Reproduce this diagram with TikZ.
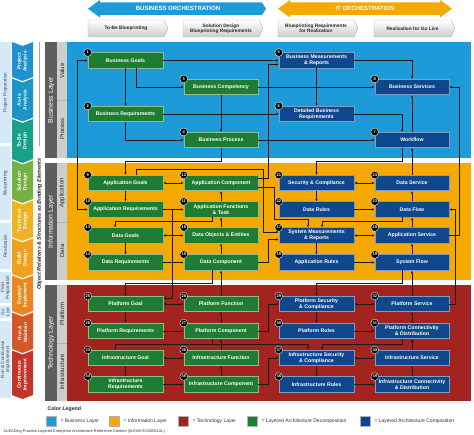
\documentclass[tikz,border=0pt]{standalone}
\usepackage{fontspec}
\setmainfont{Liberation Sans}
\usetikzlibrary{arrows.meta,calc}
\definecolor{bizblue}{HTML}{1D9AD8}
\definecolor{infoorange}{HTML}{F5A800}
\definecolor{techred}{HTML}{A3241E}
\definecolor{boxg}{HTML}{1F7D33}
\definecolor{boxgb}{HTML}{8DBE8F}
\definecolor{boxb}{HTML}{0E478C}
\definecolor{boxbb}{HTML}{7E9CC8}
\definecolor{linec}{HTML}{1A1A1A}
\definecolor{lgdark}{HTML}{5E5E5E}
\definecolor{lglight}{HTML}{CDCDCD}
\definecolor{phase}{HTML}{D5E9F6}
\definecolor{phasetxt}{HTML}{3A4756}
\definecolor{chA}{HTML}{2190CF}
\definecolor{chB}{HTML}{1C95C4}
\definecolor{chC}{HTML}{19A08A}
\definecolor{chD}{HTML}{74B044}
\definecolor{chE}{HTML}{EFB223}
\definecolor{chF}{HTML}{F0A01F}
\definecolor{chG}{HTML}{EA861F}
\definecolor{chH}{HTML}{D65627}
\definecolor{chI}{HTML}{C2352A}
\tikzset{
 gbox/.style={draw=boxgb, line width=0.5pt, fill=boxg, minimum width=75pt, minimum height=15.5pt, inner sep=0pt, text=white, font=\bfseries\fontsize{5.2}{6}\selectfont, align=center},
 bbox/.style={gbox, fill=boxb, draw=boxbb, minimum width=74pt},
 mbox/.style={gbox, minimum width=74pt},
 badge/.style={circle, fill=black, draw=white, line width=0.35pt, minimum size=7.8pt, inner sep=0pt, text=white, font=\bfseries\fontsize{4}{4.4}\selectfont},
 conn/.style={draw=linec, line width=0.6pt, -{Latex[length=2.6pt,width=2.4pt]}},
 conn2/.style={draw=linec, line width=0.6pt, {Latex[length=2.6pt,width=2.4pt]}-{Latex[length=2.6pt,width=2.4pt]}},
 stagebox/.style={draw=gray!60, line width=0.4pt, top color=white, bottom color=gray!40},
 stagetxt/.style={font=\bfseries\fontsize{4.8}{5.4}\selectfont, text=black!85, align=center},
 chevtxt/.style={rotate=90, font=\bfseries\fontsize{5}{5.6}\selectfont, text=white, align=center},
 phasetext/.style={rotate=90, font=\fontsize{4.6}{5}\selectfont, text=phasetxt, align=center},
 layertxt/.style={rotate=90, font=\fontsize{6.8}{7}\selectfont, text=white},
 subtxt/.style={rotate=90, font=\fontsize{6}{7}\selectfont, text=black!85},
 legsq/.style={draw=gray!60, line width=0.4pt, minimum size=10pt, inner sep=0pt},
 legtxt/.style={anchor=west, font=\fontsize{5}{6}\selectfont, text=black!80},
}
\begin{document}
\begin{tikzpicture}[x=1pt,y=-1pt]
\useasboundingbox (0,0) rectangle (474,435);
\fill[white] (0,0) rectangle (474,435);

% ---------- orchestration arrows ----------
\fill[bizblue] (88,8.75) -- (100,0) -- (100,2.5) -- (262,2.5) -- (266,8.75) -- (262,15) -- (100,15) -- (100,17.5) -- cycle;
\node[font=\bfseries\fontsize{6}{7}\selectfont, text=white] (borch) at (178,8.75) {BUSINESS ORCHESTRATION};
\fill[infoorange] (278,8.75) -- (290,0) -- (290,2.5) -- (440,2.5) -- (440,0) -- (452,8.75) -- (440,17.5) -- (440,15) -- (290,15) -- (290,17.5) -- cycle;
\node[font=\bfseries\fontsize{6}{7}\selectfont, text=white] (iorch) at (365,8.75) {IT ORCHESTRATION};

% ---------- stage boxes ----------
\foreach \xa/\xb/\nm/\txt in {88/168/sA/{To-Be Blueprinting}, 183/263/sB/{Solution Design\\Blueprinting Requirements}, 278/358/sC/{Blueprinting Requirements\\for Realization}, 374/455/sD/{Realization for Go Live}}{
  \shade[stagebox] (\xa,20) -- (\xb-4,20) -- (\xb,28.5) -- (\xb-4,37) -- (\xa,37) -- cycle;
  \node[stagetxt] (\nm) at ({(\xa+\xb-4)/2},28.5) {\txt};
}

% ---------- phase strip ----------
\foreach \t/\b/\nm/\txt in {42/143/pA/{Project Preparation}, 146/220/pB/{Blueprinting}, 223/269/pC/{Realization}, 272/303/pD/{Final\\Preparation}, 306/318/pE/{Go\\Live}, 321/398/pF/{Run \& Continuous\\Improvement}}{
  \fill[phase] (0,\t) rectangle (10.7,\b);
  \node[phasetext] (\nm) at (5.35,{(\t+\b)/2}) {\txt};
}

% ---------- chevrons ----------
\foreach \t/\b/\c/\nm/\txt in {42/77/chA/cA/{Project\\Analysis}, 78.5/117.5/chB/cB/{As-Is\\Analysis}, 119/159/chC/cC/{To-Be\\Design}, 160.5/199/chD/cD/{Solution\\Design}, 200.5/237/chE/cE/{Technical\\Design}, 238.5/274/chF/cF/{Build\\Design}, 275.5/311/chG/cG/{Deploy/\\Implement}, 312.5/349/chH/cH/{Run \&\\Maintain}, 350.5/395/chI/cI/{Continuous\\Improvement}}{
  \fill[\c] (12,\t) -- (22.5,\t+4) -- (33,\t) -- (33,\b) -- (22.5,\b+4) -- (12,\b) -- cycle;
  \node[chevtxt] (\nm) at (22.5,{(\t+\b)/2+2}) {\txt};
}

% ---------- binding elements caption ----------
\draw[gray!70, line width=0.5pt] (39.5,42) -- (39.5,146);
\node[rotate=90, font=\bfseries\itshape\fontsize{5.4}{6}\selectfont, text=black!85] (objrel) at (39.5,224) {Object Relations \& Structures as Binding Elements};

% ---------- layer labels ----------
\fill[lgdark] (45,42) rectangle (57,158);
\fill[lglight] (57,42) rectangle (67,158);
\fill[lgdark] (45,163.5) rectangle (57,280.5);
\fill[lglight] (57,163.5) rectangle (67,280.5);
\fill[lgdark] (45,285.5) rectangle (57,401);
\fill[lglight] (57,285.5) rectangle (67,401);
\draw[gray!60, line width=0.5pt] (57,100) -- (67,100);
\draw[gray!60, line width=0.5pt] (57,222) -- (67,222);
\draw[gray!60, line width=0.5pt] (57,343) -- (67,343);
\node[layertxt] (lb) at (51,100) {Business Layer};
\node[layertxt] (li) at (51,222) {Information Layer};
\node[layertxt] (lt) at (51,343) {Technology Layer};
\node[subtxt] (sv) at (62,71) {Value};
\node[subtxt] (sp) at (62,129) {Process};
\node[subtxt] (sa) at (62,193) {Application};
\node[subtxt] (sd) at (62,251) {Data};
\node[subtxt] (spl) at (62,314) {Platform};
\node[subtxt] (sin) at (62,372) {Infrastructure};

% ---------- panels ----------
\fill[bizblue] (67,42) rectangle (471,158);
\fill[infoorange] (67,163.5) rectangle (471,280.5);
\fill[techred] (67,285.5) rectangle (471,401);

% ---------- boxes: business ----------
\node[gbox] (n1) at (125.5,60.5) {Business Goals};
\node[mbox] (n3) at (221,87) {Business Competency};
\node[gbox] (n2) at (125.5,114) {Business Requirements};
\node[mbox] (n4) at (221,140) {Business Process};
\node[bbox, minimum width=75pt] (n5) at (316.5,60.5) {Business Measurements\\\& Reports};
\node[bbox] (n8) at (412,87) {Business Services};
\node[bbox, minimum width=75pt] (n6) at (316.5,114) {Detailed Business\\Requirements};
\node[bbox] (n7) at (412,140) {Workflow};
% ---------- boxes: information ----------
\node[gbox] (n9) at (125.5,183) {Application Goals};
\node[mbox] (n12) at (221,183) {Application Component};
\node[gbox] (n10) at (125.5,209.5) {Application Requirements};
\node[mbox] (n11) at (221,209.5) {Application Functions\\\& Task};
\node[gbox] (n13) at (125.5,235.5) {Data Goals};
\node[mbox] (n16) at (221,235.5) {Data Objects \& Entities};
\node[gbox] (n14) at (125.5,262.5) {Data Requirements};
\node[mbox] (n15) at (221,262.5) {Data Component};
\node[bbox, minimum width=75pt] (n21) at (316.5,183) {Security \& Compliance};
\node[bbox] (n24) at (412,183) {Data Service};
\node[bbox, minimum width=75pt] (n22) at (316.5,209.5) {Data Rules};
\node[bbox] (n23) at (412,209.5) {Data Flow};
\node[bbox, minimum width=75pt] (n17) at (316.5,235.5) {System Measurements\\\& Reports};
\node[bbox] (n20) at (412,235.5) {Application Service};
\node[bbox, minimum width=75pt] (n18) at (316.5,262.5) {Application Rules};
\node[bbox] (n19) at (412,262.5) {System Flow};
% ---------- boxes: technology ----------
\node[gbox] (n25) at (125.5,304) {Platform Goal};
\node[mbox] (n28) at (221,304) {Platform Function};
\node[gbox] (n26) at (125.5,331) {Platform Requirements};
\node[mbox] (n27) at (221,331) {Platform Component};
\node[gbox] (n33) at (125.5,358) {Infrastructure Goal};
\node[mbox] (n36) at (221,358) {Infrastructure Function};
\node[gbox] (n34) at (125.5,384.5) {Infrastructure\\Requirements};
\node[mbox] (n35) at (221,384.5) {Infrastructure Component};
\node[bbox, minimum width=75pt] (n29) at (316.5,304) {Platform Security\\\& Compliance};
\node[bbox] (n32) at (412,304) {Platform Service};
\node[bbox, minimum width=75pt] (n30) at (316.5,331) {Platform Rules};
\node[bbox] (n31) at (412,331) {Platform Connectivity\\\& Distribution};
\node[bbox, minimum width=75pt] (n37) at (316.5,358) {Infrastructure Security\\\& Compliance};
\node[bbox] (n40) at (412,358) {Infrastructure Service};
\node[bbox, minimum width=75pt] (n38) at (316.5,384.5) {Infrastructure Rules};
\node[bbox] (n39) at (412,384.5) {Infrastructure Connectivity\\\& Distribution};

% ---------- lanes ----------
\coordinate (X77) at (77,0);
\coordinate (X115) at (115,0);
\coordinate (X136) at (136,0);
\coordinate (X172) at (172,0);
\coordinate (X212) at (212,0);
\coordinate (X263) at (263,0);
\coordinate (X268) at (268,0);
\coordinate (X274) at (274,0);
\coordinate (X308) at (308,0);
\coordinate (X322) at (322,0);
\coordinate (X402) at (402,0);
\coordinate (X455) at (455,0);
\coordinate (X459) at (459,0);
\coordinate (Y64) at (0,64.5);
\coordinate (Y161) at (0,161);
\coordinate (Y169) at (0,169);
\coordinate (Y177) at (0,178);
\coordinate (Y186) at (0,187);
\coordinate (Y219) at (0,219);
\coordinate (Y221) at (0,221.5);
\coordinate (Y232) at (0,232);
\coordinate (Y240) at (0,239.5);
\coordinate (Y283) at (0,283);
\coordinate (Y297) at (0,298);
\coordinate (Y343) at (0,344);

% ---------- connectors: business ----------
\draw[conn] (n1) -- (n2);
\draw[conn] (n1.south -| X136) |- (n3.west);
\draw[conn] (n3) -- (n4);
\draw[conn] (n2.south) |- (n4.west);
\draw[conn] (n1.east) -- (n5.west);
\draw[conn] (n3.east) -- (n8.west);
\draw[conn] (n2.east) -- (n6.west);
\draw[conn] (n4.east) -- (n7.west);
\draw[conn] (n5) -- (n6);
\draw[conn] (n5.east) -| (n8.north);
\draw[conn] (n6.east) -| (n7.north -| X402);
\draw[conn] (n7) -- (n8);
\draw[conn2] (n1.west) -| (X77 |- n10.west) -- (n10.west);
\draw[conn] (n4.south) -- (n4.south |- Y161) -| (n9.north);
\draw[conn] (n7.south -| X402) -- (X402 |- Y161) -| (n21.north);
\draw[conn] (n24) -- (n7);
\draw[conn] (n20.east) -| (X459 |- n8.east) -- (n8.east);
\draw[conn] (n12.east |- Y177) -- (X268 |- Y177) -- (X268 |- Y64) -- (n5.west |- Y64);

% ---------- connectors: information ----------
\draw[conn2] (n9) -- (n12);
\draw[conn] (n9) -- (n10);
\draw[conn] (n10) -- (n11);
\draw[conn] (n11) -- (n12);
\draw[conn] (n11.south -| X212) -- (X212 |- Y221) -| (n13.north -| X115);
\draw[conn] (n16) -- (n11);
\draw[conn2] (n13) -- (n16);
\draw[conn] (n13) -- (n14);
\draw[conn] (n14) -- (n15);
\draw[conn] (n15) -- (n16);
\draw[conn2] (n21) -- (n24);
\draw[conn] (n21) -- (n22);
\draw[conn] (n22) -- (n23);
\draw[conn] (n23) -- (n24);
\draw[conn] (n23.south -| X402) -- (X402 |- Y221) -| (n17.north -| X322);
\draw[conn] (n20) -- (n23);
\draw[conn2] (n17) -- (n20);
\draw[conn] (n17) -- (n18);
\draw[conn] (n18) -- (n19);
\draw[conn] (n19) -- (n20);
\draw[conn] (n9.north -| X136) |- (X263 |- Y169) -- (X263 |- Y232) -- (n17.west |- Y232);
\draw[conn] (n12.east |- Y186) -- (X274 |- Y186) -- (X274 |- Y219) -| (n17.north -| X308);
\draw[conn] (n15.east) -| (X268 |- Y240) -- (n17.west |- Y240);
\draw[conn] (n10.east -| X172) -- (X172 |- Y297) -- (n25.east |- Y297);

% ---------- connectors: technology ----------
\draw[conn] (n15.south -| X212) -- (X212 |- Y283) -| (n25.north);
\draw[conn] (n28) -- (n15);
\draw[conn] (n19.south -| X402) -- (X402 |- Y283) -| (n29.north);
\draw[conn] (n32) -- (n19);
\draw[conn] (n32.east) -| (X455 |- n23.east) -- (n23.east);
\draw[conn2] (n25) -- (n28);
\draw[conn] (n25) -- (n26);
\draw[conn] (n26) -- (n27);
\draw[conn] (n27) -- (n28);
\draw[conn] (n27.south -| X212) -- (X212 |- Y343) -| (n33.north -| X115);
\draw[conn] (X212 |- Y343) -| (n37.north -| X308);
\draw[conn] (n36) -- (n27);
\draw[conn2] (n33) -- (n36);
\draw[conn] (n33) -- (n34);
\draw[conn] (n34) -- (n35);
\draw[conn] (n35) -- (n36);
\draw[conn2] (n29) -- (n32);
\draw[conn] (n29) -- (n30);
\draw[conn] (n30) -- (n31);
\draw[conn] (n31) -- (n32);
\draw[conn] (n31.south -| X402) -- (X402 |- Y343) -| (n37.north -| X322);
\draw[conn] (n40) -- (n31);
\draw[conn2] (n37) -- (n40);
\draw[conn] (n37) -- (n38);
\draw[conn] (n38) -- (n39);
\draw[conn] (n39) -- (n40);
\draw[conn] (n27.east) -| (X268 |- n29.west) -- (n29.west);
\draw[conn] (n35.east) -| (X268 |- n37.west) -- (n37.west);

% ---------- badges ----------
\foreach \k in {1,...,40}{
  \node[badge] (bd\k) at (n\k.north west) {\k};
}

% ---------- legend ----------
\node[anchor=west, font=\bfseries\fontsize{5.2}{6}\selectfont, text=black!85] (lg) at (44,409) {Color Legend};
\node[legsq, fill=bizblue] (l1) at (51,421) {};
\node[legtxt] (t1) at (57,421) {= Business Layer};
\node[legsq, fill=infoorange] (l2) at (114,421) {};
\node[legtxt] (t2) at (120,421) {= Information Layer};
\node[legsq, fill=techred] (l3) at (183,421) {};
\node[legtxt] (t3) at (189,421) {= Technology Layer};
\node[legsq, fill=boxg] (l4) at (252,421) {};
\node[legtxt] (t4) at (258,421) {= Layered Architecture Decomposition};
\node[legsq, fill=boxb] (l5) at (365,421) {};
\node[legtxt] (t5) at (371,421) {= Layered Architecture Composition};
\node[anchor=west, font=\fontsize{3.9}{4.5}\selectfont, text=black!80] (foot) at (0,431.5) {©LEADing Practice Layered Enterprise Architecture Reference Content (\#LEAD-ES40001AL)};
\end{tikzpicture}
\end{document}
